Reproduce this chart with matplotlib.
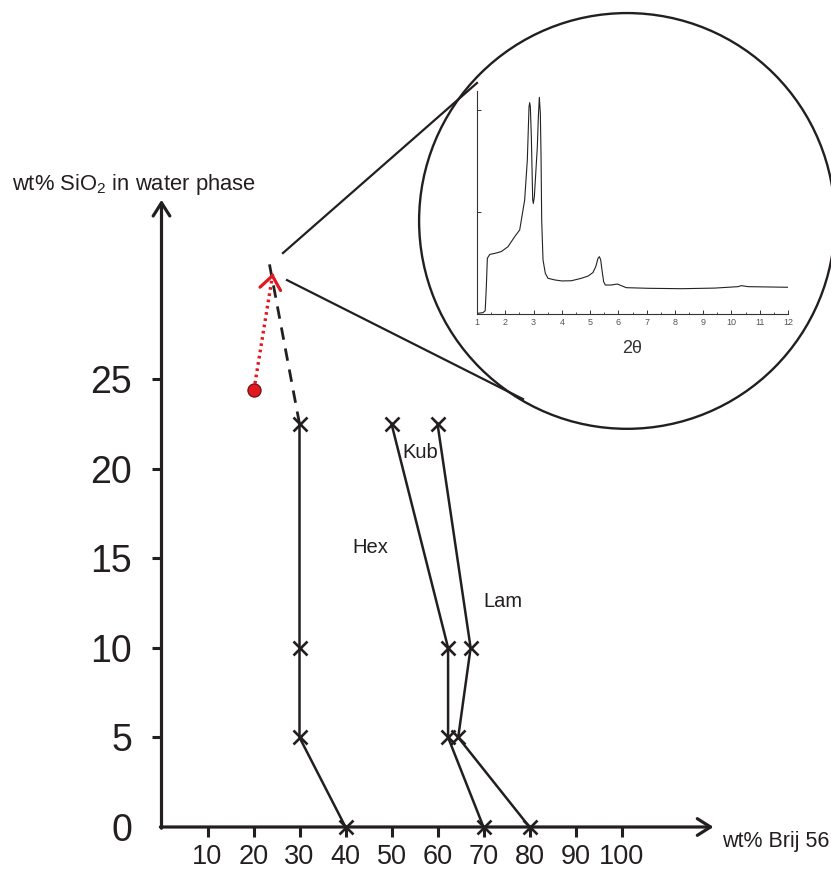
import matplotlib
matplotlib.use('Agg')
import matplotlib.pyplot as plt
from matplotlib.patches import Ellipse
from matplotlib.ticker import MultipleLocator

plt.rcParams['font.family'] = ['Liberation Sans', 'DejaVu Sans']
plt.rcParams['mathtext.default'] = 'regular'

INK = '#231f20'
RED = '#e3171e'

# ---------------- data: phase diagram ----------------
sio2_levels = [0, 5, 10, 22.5]          # wt% SiO2 in water phase
boundary_hex = [40, 30, 30, 30]         # wt% Brij 56
boundary_hex_kub = [70, 62.3, 62.3, 50]
boundary_kub_lam = [80, 64.5, 67.2, 60]
dashed_x = [30, 23.4]
dashed_y = [22.5, 31.5]
red_point_x = [20.1]
red_point_y = [24.4]
red_tip_x = [24.2]
red_tip_y = [30.9]
x_ticks = [10, 20, 30, 40, 50, 60, 70, 80, 90, 100]
y_ticks = [0, 5, 10, 15, 20, 25]
phase_names = ['Hex', 'Kub', 'Lam']

# ---------------- data: XRD inset ----------------
two_theta = [1.0, 1.21, 1.29, 1.33, 1.366, 1.45, 1.625, 1.86, 2.097, 2.333,
             2.51, 2.686, 2.78, 2.84, 2.863, 2.887, 2.922, 2.97, 2.993, 3.028,
             3.064, 3.134, 3.17, 3.205, 3.24, 3.264, 3.288, 3.335, 3.417, 3.51,
             3.75, 4.0, 4.34, 4.69, 4.93, 5.10, 5.20, 5.28, 5.33, 5.375,
             5.42, 5.48, 5.54, 5.75, 5.965, 6.05, 6.28, 7.05, 8.23, 9.41,
             10.23, 10.35, 10.59, 12.0]
intensity = [0.003, 0.0065, 0.016, 0.134, 0.273, 0.292, 0.297, 0.306, 0.33, 0.379,
             0.412, 0.559, 0.755, 1.016, 1.036, 1.016, 0.869, 0.559, 0.542, 0.575,
             0.657, 0.820, 0.967, 1.062, 0.984, 0.788, 0.461, 0.265, 0.199, 0.175,
             0.167, 0.162, 0.163, 0.175, 0.186, 0.203, 0.232, 0.273, 0.281, 0.265,
             0.216, 0.158, 0.142, 0.142, 0.147, 0.142, 0.129, 0.126, 0.124, 0.127,
             0.134, 0.139, 0.134, 0.131]

W, H = 831, 874
fig = plt.figure(figsize=(W / 100, H / 100), dpi=100)

# main axes: x 0..120 maps to px 161.5..713.5, y 0..35 maps to px 827..199.8
XMAX, YMAX = 120, 35
ax = fig.add_axes([161.5 / W, 47 / H, XMAX * 4.6 / W, YMAX * 17.92 / H])
ax.set_xlim(0, XMAX)
ax.set_ylim(0, YMAX)
for s in ax.spines.values():
    s.set_visible(False)
ax.patch.set_visible(False)

# axis arrows
arrow_kw = dict(arrowstyle='->,head_length=0.95,head_width=0.6', lw=2.3,
                color=INK, shrinkA=0, shrinkB=0)
ax.annotate('', xy=(XMAX, 0), xytext=(-0.25, 0), arrowprops=arrow_kw,
            annotation_clip=False)
ax.annotate('', xy=(0, YMAX), xytext=(0, -0.07), arrowprops=arrow_kw,
            annotation_clip=False)

ax.set_xticks(x_ticks)
ax.set_xticklabels([str(v) for v in x_ticks])
ax.set_yticks(y_ticks)
ax.set_yticklabels([str(v) for v in y_ticks])
ax.tick_params(axis='x', direction='out', length=7, width=2.2, color=INK,
               labelsize=19.5, pad=5, labelcolor=INK)
ax.tick_params(axis='y', direction='out', length=7, width=2.2, color=INK,
               labelsize=27, pad=14, labelcolor=INK)
ax.yaxis.get_major_ticks()[0].tick1line.set_visible(False)

# axis titles
ax.text(-32.5, 35.55, 'wt% SiO$_2$ in water phase', fontsize=15.8,
        color=INK, ha='left', va='baseline', clip_on=False)
ax.text(121.85, -1.1, 'wt% Brij 56', fontsize=15.5, color=INK,
        ha='left', va='baseline', clip_on=False)

# phase boundaries
line_kw = dict(color=INK, lw=1.8, marker='x', ms=9.5, mew=1.9, clip_on=False)
ax.plot(boundary_hex, sio2_levels, **line_kw)
ax.plot(boundary_hex_kub, sio2_levels, **line_kw)
ax.plot(boundary_kub_lam, sio2_levels, **line_kw)
ax.plot(dashed_x, dashed_y, color=INK, lw=2.0, dashes=(4.5, 3.2),
        clip_on=False)

# phase labels
ax.text(45.3, 15.6, phase_names[0], fontsize=14.5, color=INK,
        ha='center', va='center')
ax.text(56.2, 20.9, phase_names[1], fontsize=14.5, color=INK,
        ha='center', va='center')
ax.text(74.3, 12.6, phase_names[2], fontsize=14.5, color=INK,
        ha='center', va='center')

# red sample point and dotted arrow
ax.plot([red_point_x[0], red_tip_x[0]], [red_point_y[0], red_tip_y[0]],
        color=RED, lw=2.4, linestyle=(0, (0.8, 1.1)), clip_on=False)
dx = red_tip_x[0] - red_point_x[0]
dy = red_tip_y[0] - red_point_y[0]
ax.annotate('', xy=(red_tip_x[0], red_tip_y[0]),
            xytext=(red_tip_x[0] - 0.02 * dx, red_tip_y[0] - 0.02 * dy),
            arrowprops=dict(arrowstyle='->,head_length=0.95,head_width=0.75',
                            lw=2.3, color=RED, shrinkA=0, shrinkB=0),
            annotation_clip=False)
ax.plot(red_point_x, red_point_y, 'o', ms=9.5, mfc=RED, mec='#5a1010',
        mew=0.8, clip_on=False, zorder=5)

# magnifier: circle and connecting lines
ax.add_patch(Ellipse((101.2, 33.82), 90.4, 23.2, fill=False, lw=1.7,
                     ec=INK, clip_on=False))
ax.plot([26.41, 68.59], [32.03, 41.52], color=INK, lw=1.6, clip_on=False)
ax.plot([27.28, 78.59], [30.52, 23.88], color=INK, lw=1.6, clip_on=False)

# ---------------- inset XRD ----------------
ins = fig.add_axes([477 / W, (H - 314) / H, 311 / W, 223 / H])
ins.patch.set_visible(False)
ins.plot(two_theta, intensity, color='#222222', lw=0.8)
ins.set_xlim(1, 12)
ins.set_ylim(0, 1.093)
ins.set_xticks(range(1, 13))
ins.xaxis.set_minor_locator(MultipleLocator(0.5))
ins.set_yticks([0, 0.5, 1.0])
ins.set_yticklabels([])
for side in ('top', 'right'):
    ins.spines[side].set_visible(False)
for side in ('left', 'bottom'):
    ins.spines[side].set_linewidth(0.8)
    ins.spines[side].set_color('#333333')
ins.tick_params(which='major', direction='in', length=3.2, width=0.7,
                color='#333333', labelsize=6.5, labelcolor='#555555', pad=3)
ins.tick_params(which='minor', direction='in', length=1.8, width=0.6,
                color='#333333')
ins.tick_params(axis='y', which='minor', left=False)
ins.set_xlabel('2\u03b8', fontsize=13, color='#333333', labelpad=9)

fig.savefig('out.png', dpi=100)
